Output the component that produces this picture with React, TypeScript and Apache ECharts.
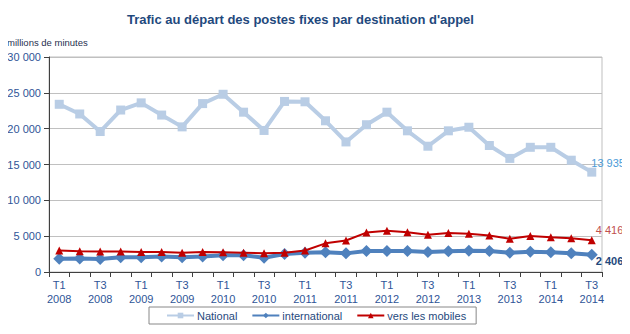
import React, { useEffect, useRef } from "react";
import * as echarts from "echarts";

const categories = [
  "T1 2008", "T2 2008", "T3 2008", "T4 2008",
  "T1 2009", "T2 2009", "T3 2009", "T4 2009",
  "T1 2010", "T2 2010", "T3 2010", "T4 2010",
  "T1 2011", "T2 2011", "T3 2011", "T4 2011",
  "T1 2012", "T2 2012", "T3 2012", "T4 2012",
  "T1 2013", "T2 2013", "T3 2013", "T4 2013",
  "T1 2014", "T2 2014", "T3 2014",
];

const national = [
  23400, 22050, 19600, 22600, 23600, 21900, 20250, 23500, 24800, 22300,
  19750, 23800, 23750, 21100, 18150, 20550, 22300, 19700, 17550, 19700,
  20200, 17650, 15850, 17400, 17400, 15600, 13935,
];

const international = [
  1850, 1900, 1800, 2050, 2050, 2150, 2050, 2150, 2350, 2350,
  2000, 2500, 2700, 2750, 2600, 2930, 2930, 2930, 2790, 2880,
  2980, 2930, 2700, 2840, 2750, 2600, 2406,
];

const mobiles = [
  3000, 2900, 2850, 2850, 2800, 2800, 2700, 2800, 2750, 2700,
  2600, 2700, 3000, 4000, 4400, 5500, 5750, 5530, 5200, 5450,
  5350, 5100, 4650, 5020, 4840, 4700, 4416,
];

const yTicks = { min: 0, max: 30000, interval: 5000 };

const fmt = (v: number) => String(Math.round(v)).replace(/\B(?=(\d{3})+(?!\d))/g, " ");

const FONT = "'Liberation Sans', Arial, sans-serif";

function withEndLabel(arr: number[], color: string, bold: boolean, offset: [number, number]) {
  return arr.map((v, i) =>
    i === arr.length - 1
      ? {
          value: v,
          label: {
            show: true,
            position: "right",
            distance: 0,
            offset,
            formatter: () => fmt(v),
            color,
            fontSize: 11,
            fontWeight: bold ? "bold" : "normal",
            fontFamily: FONT,
          },
        }
      : v
  );
}

export default function App() {
  const ref = useRef<HTMLDivElement>(null);
  useEffect(() => {
    if (!ref.current) return;
    const chart = echarts.init(ref.current, null, { renderer: "svg" });
    chart.setOption({
      animation: false,
      textStyle: { fontFamily: FONT },
      title: {
        text: "Trafic au départ des postes fixes par destination d'appel",
        left: 122,
        top: 8,
        textStyle: { fontSize: 13, fontWeight: "bold", color: "#1F497D", fontFamily: FONT },
      },
      graphic: [
        {
          type: "text",
          left: 7,
          top: 37,
          style: { text: "millions de minutes", fontSize: 9.5, fill: "#1F2F4F", fontFamily: FONT },
        },
      ],
      grid: {
        left: 49,
        right: 28,
        top: 57,
        bottom: 62,
        show: true,
        borderColor: "#BFBFBF",
        borderWidth: 1,
      },
      legend: {
        left: 149,
        top: 307,
        itemGap: 14,
        itemWidth: 27,
        itemHeight: 7,
        borderColor: "#888",
        borderWidth: 1,
        padding: [3, 10, 3, 17],
        textStyle: { fontSize: 11, color: "#1F497D", fontFamily: FONT, padding: [0, 0, 0, -2] },
        data: ["National", "international", "vers les mobiles"],
      },
      xAxis: {
        type: "category",
        data: categories,
        boundaryGap: true,
        axisLine: { lineStyle: { color: "#404040", width: 1 } },
        axisTick: { show: true, interval: 0, length: 5, lineStyle: { color: "#404040" } },
        axisLabel: {
          interval: 1,
          fontSize: 11,
          color: "#2F5597",
          lineHeight: 14,
          margin: 6,
          formatter: (v: string) => v.replace(" ", "\n"),
        },
        splitLine: { show: false },
      },
      yAxis: {
        type: "value",
        min: yTicks.min,
        max: yTicks.max,
        interval: yTicks.interval,
        axisLine: { show: true, lineStyle: { color: "#404040", width: 1 } },
        axisTick: { show: true, length: 5, lineStyle: { color: "#404040" } },
        axisLabel: { fontSize: 11, color: "#2F5597", margin: 8, formatter: (v: number) => fmt(v) },
        splitLine: { lineStyle: { color: "#C0C0C0", width: 1 } },
      },
      series: [
        {
          name: "National",
          type: "line",
          data: withEndLabel(national, "#4A9BD8", false, [-5, -9]),
          symbol: "rect",
          symbolSize: 9,
          lineStyle: { color: "#B9CDE5", width: 4 },
          itemStyle: { color: "#B9CDE5" },
          z: 2,
        },
        {
          name: "international",
          type: "line",
          data: withEndLabel(international, "#1F497D", true, [-2, 6]),
          symbol: "diamond",
          symbolSize: 12,
          lineStyle: { color: "#4F81BD", width: 4 },
          itemStyle: { color: "#4F81BD" },
          z: 3,
        },
        {
          name: "vers les mobiles",
          type: "line",
          data: withEndLabel(mobiles, "#C0504D", false, [0, -10]),
          symbol: "triangle",
          symbolSize: 8,
          lineStyle: { color: "#C00000", width: 2 },
          itemStyle: { color: "#C00000" },
          z: 4,
        },
      ],
    });
    return () => chart.dispose();
  }, []);
  return <div ref={ref} style={{ width: 630, height: 334, margin: -8 }} />;
}
